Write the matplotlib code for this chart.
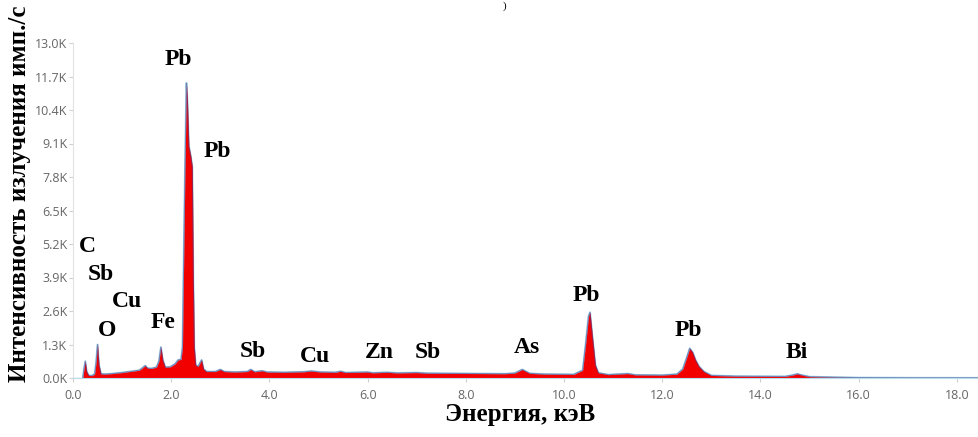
import numpy as np
import matplotlib
matplotlib.use("Agg")
import matplotlib.pyplot as plt
from matplotlib.ticker import FuncFormatter

# ── spectrum (energy in keV, intensity in counts/s) ───────────────────────────
energy_kev = [
    0.20, 0.22, 0.25, 0.28, 0.32, 0.38, 0.44, 0.47, 0.50, 0.53, 0.57, 0.65,
    0.80, 1.00, 1.20, 1.35, 1.42, 1.47, 1.52, 1.60, 1.70, 1.75, 1.79, 1.83,
    1.88, 1.98, 2.08, 2.14, 2.20, 2.23, 2.25, 2.28, 2.31, 2.33, 2.36, 2.40,
    2.43, 2.45, 2.47, 2.50, 2.55, 2.59, 2.62, 2.66, 2.72, 2.90, 3.00, 3.08,
    3.30, 3.55, 3.62, 3.70, 3.85, 3.95, 4.30, 4.70, 4.85, 5.05, 5.35, 5.45,
    5.55, 6.00, 6.10, 6.40, 6.60, 7.00, 7.20, 8.00, 8.80, 9.00, 9.15, 9.30,
    9.60, 10.20, 10.38, 10.44, 10.50, 10.53, 10.58, 10.64, 10.70, 10.90,
    11.30, 11.45, 12.00, 12.30, 12.42, 12.50, 12.56, 12.62, 12.68, 12.75,
    12.85, 13.00, 13.50, 14.50, 14.65, 14.75, 14.85, 15.00, 15.50, 16.00,
    17.00, 18.50,
]
counts = [
    0, 300, 650, 250, 100, 90, 150, 600, 1300, 500, 160, 150,
    170, 210, 260, 300, 400, 480, 380, 370, 420, 650, 1200, 700,
    420, 430, 550, 700, 720, 1200, 4000, 8000, 11450, 10800, 9000, 8600,
    8200, 4000, 1200, 500, 450, 600, 700, 350, 250, 250, 330, 250,
    230, 250, 330, 240, 280, 230, 220, 240, 270, 230, 220, 260,
    210, 230, 200, 220, 195, 210, 185, 175, 165, 190, 330, 180,
    150, 140, 300, 1300, 2400, 2550, 1600, 500, 200, 130,
    170, 120, 110, 150, 350, 800, 1150, 1000, 700, 450,
    250, 100, 70, 60, 110, 160, 110, 50, 30, 15,
    8, 5,
]

# element labels and where they sit (data coordinates)
label_text = ["Pb", "Pb", "C", "Sb", "Cu", "O", "Fe", "Sb", "Cu",
              "Zn", "Sb", "As", "Pb", "Pb", "Bi"]
label_kev = [2.14, 2.95, 0.30, 0.57, 1.10, 0.69, 1.84, 3.67, 4.93,
             6.25, 7.23, 9.25, 10.45, 12.53, 14.75]
label_counts = [12350, 8800, 5120, 4030, 2950, 1860, 2150, 1030, 850,
                1000, 1000, 1200, 3200, 1850, 1000]

y_ticks = np.arange(0, 13001, 1300)
x_ticks = np.arange(0, 18.1, 2.0)

W, H = 979, 437
fig = plt.figure(figsize=(W / 100, H / 100), dpi=100)
ax = fig.add_axes([73 / W, 1 - 378 / H, 1 - 73 / W, (378 - 43) / H])

e = np.array(energy_kev)
c = np.array(counts)

ax.plot(e, c, color="#9fd3e2", lw=1.4, zorder=1)
ax.fill_between(e, 0, c, color="#f20000", lw=0, zorder=2)
ax.plot(e, c, color="#4a3c96", lw=0.8, alpha=0.5, zorder=3)
ax.axhline(0, color="#a9d6e6", lw=1.0, zorder=0)

serif = ["Liberation Serif", "DejaVu Serif"]
for txt, xk, yc in zip(label_text, label_kev, label_counts):
    ax.text(xk, yc, txt, ha="center", va="center", family=serif,
            fontweight="bold", fontsize=17, color="black", zorder=5)

ax.set_xlim(0, (W - 73) / 49.1)
ax.set_ylim(0, 13000)
ax.set_yticks(y_ticks)
ax.set_xticks(x_ticks)
ax.yaxis.set_major_formatter(FuncFormatter(lambda v, p: f"{v / 1000:.1f}K"))
ax.xaxis.set_major_formatter(FuncFormatter(lambda v, p: f"{v:.1f}"))

for s in ("top", "right"):
    ax.spines[s].set_visible(False)
ax.spines["left"].set_color("#e2e2e2")
ax.spines["bottom"].set_color("#b9dcea")
ax.tick_params(axis="both", colors="#d0d0d0", labelcolor="#666666",
               labelsize=9, length=3, width=0.8)
ax.tick_params(axis="x", pad=5)
ax.tick_params(axis="y", pad=1)
for lab in ax.get_xticklabels() + ax.get_yticklabels():
    lab.set_family(["Open Sans", "DejaVu Sans"])

fig.text(20 / W, 1 - 194 / H, "Интенсивность излучения имп./с", rotation=90,
         ha="center", va="center", family=serif, fontweight="bold",
         fontsize=18)
fig.text(520 / W, 1 - 415 / H, "Энергия, кэВ", ha="center", va="center",
         family=serif, fontweight="bold", fontsize=18)
fig.text(505 / W, 1 - 6 / H, ")", ha="center", va="center", family=serif,
         fontsize=8)

fig.savefig("out.png", dpi=100)
